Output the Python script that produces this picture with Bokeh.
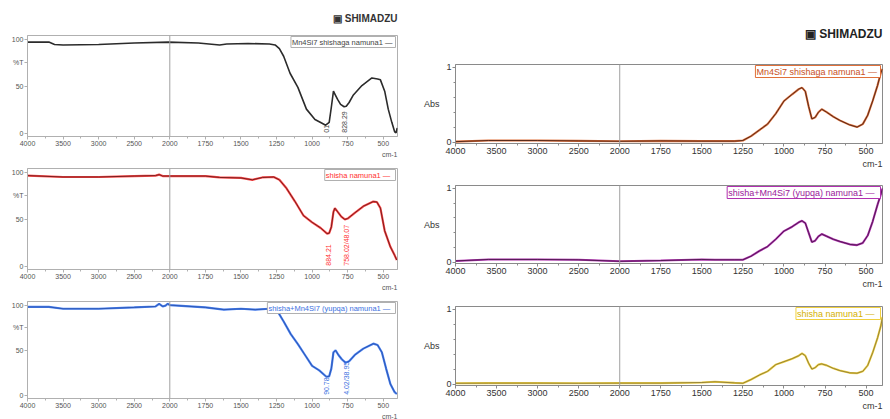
import math
from bokeh.plotting import figure
from bokeh.models import Range1d, FixedTicker, Span, Label, Title
from bokeh.layouts import row, column
from bokeh.embed import file_html
from bokeh.resources import INLINE
from bokeh.core.properties import value

# ---------------- data ----------------
X_TICK_WN = [4000, 3500, 3000, 2500, 2000, 1750, 1500, 1250, 1000, 750, 500]

# left column: %T spectra
wn_t1 = [4000, 3700, 3620, 3500, 3000, 2500, 2020, 1800, 1650, 1600, 1450, 1300, 1260, 1230,
         1200, 1155, 1100, 1040, 980, 930, 905, 880, 865, 850, 840, 820, 800, 775, 760, 740,
         710, 650, 580, 540, 520, 490, 465, 440, 420, 410, 402]
t1 = [97, 97, 94.5, 94, 94.5, 96, 97, 96, 94, 95, 95.5, 95, 94, 90,
      82, 64, 49, 26, 15, 11, 9, 12, 28, 45, 42, 36, 31, 28.5, 29, 33,
      41, 51, 59, 58, 57, 45, 26, 12, 2, 1, 6]

wn_t2 = [4000, 3500, 3000, 2500, 2200, 2150, 2100, 2000, 1750, 1650, 1500, 1420, 1350, 1270,
         1230, 1180, 1120, 1060, 1000, 940, 895, 880, 865, 850, 840, 820, 795, 770, 750, 700,
         640, 570, 545, 520, 490, 450, 420, 405]
t2 = [96.5, 95, 95, 96, 96.5, 97.5, 96, 96, 96, 94.5, 94, 92, 94.5, 95,
      92, 83, 69, 54, 47, 41, 35, 35.5, 42, 58, 62, 58, 53, 50, 51, 57,
      64, 69, 68.5, 62, 38, 21, 12, 7]

wn_t3 = [4000, 3700, 3500, 3000, 2500, 2200, 2150, 2100, 2060, 2030, 2000, 1750, 1620, 1500,
         1400, 1300, 1250, 1200, 1150, 1100, 1050, 1000, 950, 900, 880, 865, 850, 835, 815,
         790, 765, 740, 700, 640, 570, 540, 510, 480, 450, 420, 405]
t3 = [98, 98, 96, 96, 97.5, 98.5, 101.5, 98.5, 99.5, 101.5, 100, 97.5, 95, 96,
      95, 96, 95, 82, 68, 57, 45, 33, 28, 21, 21.5, 30, 48, 50, 45,
      40, 36.5, 38, 45, 52, 57.5, 56, 48, 30, 13, 4, 2]

# right column: absorbance spectra
wn_a = [4000, 3600, 3000, 2500, 2000, 1750, 1500, 1420, 1300, 1250, 1200, 1150, 1100, 1050,
        1000, 950, 910, 890, 870, 850, 830, 810, 790, 770, 740, 700, 660, 600, 555, 520,
        490, 460, 430, 410, 400]
a1 = [0.005, 0.02, 0.02, 0.015, 0.01, 0.015, 0.012, 0.012, 0.012, 0.02, 0.08, 0.16, 0.24, 0.38,
      0.55, 0.64, 0.71, 0.73, 0.68, 0.48, 0.31, 0.33, 0.40, 0.44, 0.40, 0.34, 0.29, 0.23, 0.20, 0.24,
      0.36, 0.55, 0.76, 0.93, 0.98]
a2 = [0.015, 0.035, 0.035, 0.03, 0.01, 0.02, 0.035, 0.03, 0.03, 0.03, 0.08, 0.15, 0.21, 0.31,
      0.42, 0.48, 0.54, 0.56, 0.53, 0.40, 0.27, 0.29, 0.35, 0.38, 0.35, 0.31, 0.28, 0.24, 0.23, 0.26,
      0.36, 0.55, 0.78, 0.92, 1.0]
a3 = [0.01, 0.012, 0.012, 0.01, 0.012, 0.012, 0.02, 0.03, 0.015, 0.01, 0.06, 0.12, 0.17, 0.26,
      0.30, 0.34, 0.38, 0.41, 0.38, 0.28, 0.20, 0.22, 0.26, 0.27, 0.25, 0.21, 0.18, 0.15, 0.145, 0.17,
      0.25, 0.42, 0.62, 0.78, 0.90]

names_left = ["Mn4Si7 shishaga namuna1", "shisha  namuna1", "shisha+Mn4Si7 (yupqa)  namuna1"]
names_right = ["Mn4Si7 shishaga namuna1", "shisha+Mn4Si7 (yupqa)  namuna1", "shisha  namuna1"]

peaks_wn = [[900, 772], [885, 760], [900, 760]]
peaks_txt = [["01", "828.29"], ["884.21", "758.02/48.07"], ["90.78", "4.02/38.95"]]

FONT = "Liberation Sans"


def split_scale(wn):
    """Shimadzu split abscissa: 500 cm-1 per division above 2000, 250 below."""
    return (4000 - wn) / 500 if wn >= 2000 else 4 + (2000 - wn) / 250


def make_panel(w, h, top, bottom, left, right, yr, font_px, frame_color, label_color):
    p = figure(width=w, height=h, output_backend="svg", toolbar_location=None,
               x_range=Range1d(split_scale(4000), split_scale(400)), y_range=Range1d(*yr),
               min_border_top=top, min_border_bottom=bottom, min_border_left=left,
               min_border_right=right, background_fill_color="white", border_fill_color="white")
    p.grid.visible = False
    p.outline_line_color = frame_color
    xa = p.xaxis[0]
    ticks = [split_scale(v) for v in X_TICK_WN]
    minor = [i * 0.5 for i in range(0, 21)]
    xa.ticker = FixedTicker(ticks=ticks, minor_ticks=minor)
    xa.major_label_overrides = {t: str(v) for t, v in zip(ticks, X_TICK_WN)}
    for ax in (p.xaxis[0], p.yaxis[0]):
        ax.axis_line_color = frame_color
        ax.major_tick_line_color = frame_color
        ax.minor_tick_line_color = frame_color
        ax.major_tick_out = 3
        ax.major_tick_in = 0
        ax.minor_tick_out = 2
        ax.minor_tick_in = 0
        ax.major_label_text_font = FONT
        ax.major_label_text_font_size = f"{font_px}px"
        ax.major_label_text_color = label_color
        ax.major_label_standoff = 1
    p.add_layout(Span(location=split_scale(2000), dimension="height",
                      line_color="#a0a0a0", line_width=1))
    p.add_layout(Title(text="cm-1", align="right", text_font=FONT, text_font_size=f"{font_px}px",
                       text_font_style="normal", text_color=label_color, standoff=0), "below")
    return p


def add_curve(p, wn, vals, outer, inner, ow, iw):
    xs = [split_scale(v) for v in wn]
    p.line(xs, vals, line_color=outer, line_width=ow)
    if inner:
        p.line(xs, vals, line_color=inner, line_width=iw)


def add_legend(p, text, color, border, font_px, x, y):
    p.add_layout(Label(x=x, y=y, text=text + "  \u2014", text_align="right", text_baseline="top",
                       text_font=FONT, text_font_size=f"{font_px}px", text_color=color,
                       border_line_color=border, background_fill_color="white", padding=1,
                       x_offset=-2, y_offset=-1))


def add_logo(p, standoff, size, color):
    p.add_layout(Title(text="\u25a3 SHIMADZU", align="right", vertical_align="top",
                       text_font=FONT, text_font_size=f"{size}px", text_font_style="bold",
                       text_color=color, standoff=standoff), "above")


# ---------------- left column (%T) ----------------
LW, LL, LR = 420, 27, 23
l_yr = (-3, 104)
left_specs = [
    (157, 35, 20, wn_t1, t1, "#2b2b2b", None, "#444444"),
    (133, 11, 20, wn_t2, t2, "#ff4a4a", "#6a1a1a", "#ff3030"),
    (129, 11, 17, wn_t3, t3, "#4a80f0", "#2a55b0", "#3a70e0"),
]
left_figs = []
for i, (h, top, bot, wn, vals, outer, inner, tcol) in enumerate(left_specs):
    p = make_panel(LW, h, top, bot, LL, LR, l_yr, 7, "#b0b0b0", "#555555")
    ya = p.yaxis[0]
    ya.ticker = FixedTicker(ticks=[0, 50, 75, 100], minor_ticks=[])
    ya.major_label_overrides = {75: "%T"}
    if inner:
        add_curve(p, wn, vals, outer, inner, 2.2, 0.9)
    else:
        add_curve(p, wn, vals, outer, None, 1.6, 0)
    add_legend(p, names_left[i], tcol, "#b0b0b0", 7.5, split_scale(400), l_yr[1])
    px = [split_scale(v) for v in peaks_wn[i]]
    p.text(x=px, y=[1, 1], text=peaks_txt[i], angle=math.pi / 2, text_align="left",
           text_baseline="middle", text_font=value(FONT), text_font_size="7px",
           text_color=tcol)
    if i == 0:
        add_logo(p, 20, 10, "#333333")
    left_figs.append(p)

# ---------------- right column (Abs) ----------------
RW, RL, RR = 470, 35, 8
r_yr = (-0.02, 1.04)
right_specs = [
    (168, 64, 25, a1, "#e0703a", "#4a2418", "#c8501e"),
    (123, 17, 28, a2, "#b030b0", "#4a1a4a", "#9a209a"),
    (128, 15, 34, a3, "#f0d040", "#8a7a3a", "#d4b000"),
]
right_figs = []
for i, (h, top, bot, vals, outer, inner, tcol) in enumerate(right_specs):
    p = make_panel(RW, h, top, bot, RL, RR, r_yr, 9, "#8a8a8a", "#333333")
    ya = p.yaxis[0]
    ya.ticker = FixedTicker(ticks=[0, 1], minor_ticks=[0.2, 0.4, 0.6, 0.8])
    ya.axis_label = "Abs"
    ya.axis_label_orientation = "horizontal"
    ya.axis_label_text_font = FONT
    ya.axis_label_text_font_size = "9px"
    ya.axis_label_text_font_style = "normal"
    ya.axis_label_text_color = "#333333"
    ya.axis_label_standoff = 4
    add_curve(p, wn_a, vals, outer, inner, 2.1, 0.9)
    add_legend(p, names_right[i], tcol, outer, 9, split_scale(400), r_yr[1])
    if i == 0:
        add_logo(p, 44, 12, "#222222")
    right_figs.append(p)

layout = row(column(*left_figs, spacing=0), column(*right_figs, spacing=0), spacing=0)
open("out.html", "w").write(file_html(layout, INLINE))
